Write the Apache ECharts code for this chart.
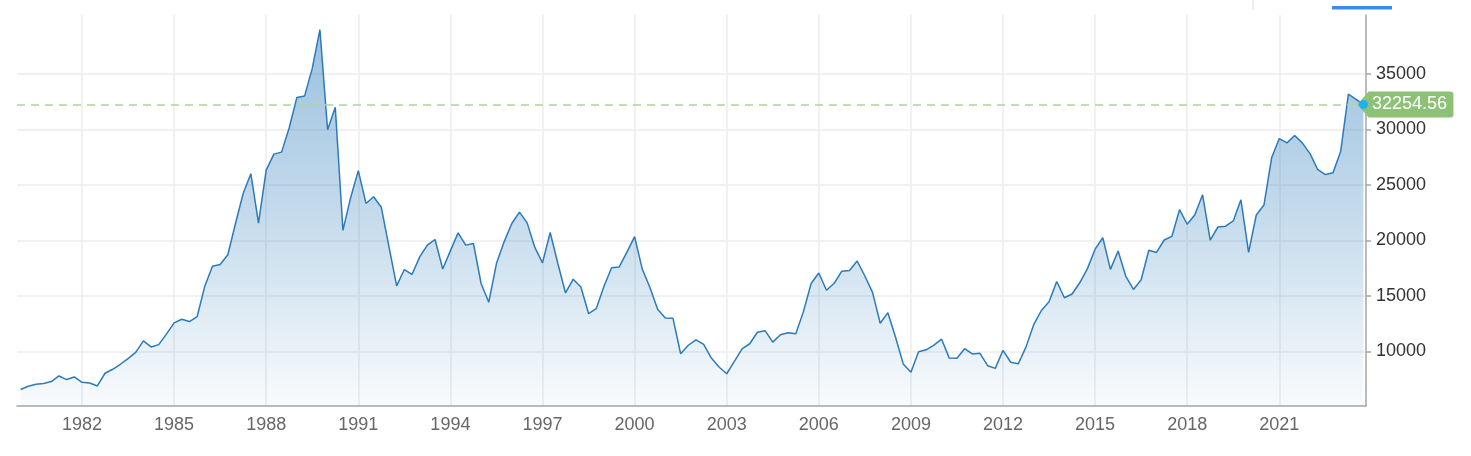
<!DOCTYPE html>
<html>
<head>
<meta charset="utf-8">
<script src="https://cdn.jsdelivr.net/npm/echarts@6/dist/echarts.min.js"></script>
<style>
  html, body { margin: 0; padding: 0; background: #ffffff; }
  #chart { width: 1471px; height: 456px; }
</style>
</head>
<body>
<div id="chart"></div>
<script>
// Quarterly closes (plotted at the start of each quarter), starting 1980 Q1
const startYear = 1980;
const q1980s = [
  6550, 6840, 7020, 7100,
  7265, 7771, 7446, 7682,
  7200, 7140, 6870, 8017,
  8375, 8827, 9340, 9894,
  10930, 10390, 10600, 11543,
  12560, 12890, 12680, 13113,
  15870, 17670, 17820, 18701,
  21520, 24230, 26011, 21564,
  26335, 27780, 27960, 30159,
  32895, 33010, 35510, 39000
];
const q1990s = [
  29980, 32000, 20900, 23849,
  26292, 23330, 23930, 22984,
  19410, 15900, 17370, 16925,
  18510, 19570, 20080, 17417,
  19050, 20680, 19570, 19723,
  16110, 14420, 17910, 19868,
  21520, 22545, 21580, 19361,
  17970, 20710, 17910, 15259,
  16500, 15800, 13400, 13842,
  15837, 17530, 17605, 18934
];
const q2000s = [
  20337, 17411, 15747, 13785,
  12999, 12969, 9774, 10542,
  11024, 10621, 9383, 8579,
  7973, 9083, 10219, 10677,
  11715, 11858, 10824, 11489,
  11668, 11584, 13574, 16111,
  17060, 15505, 16128, 17226,
  17288, 18138, 16786, 15308,
  12525, 13481, 11259, 8860,
  8109, 9958, 10133, 10546
];
const q2010s = [
  11090, 9383, 9369, 10229,
  9755, 9816, 8700, 8455,
  10084, 9007, 8870, 10395,
  12398, 13677, 14455, 16291,
  14828, 15162, 16174, 17451,
  19207, 20236, 17388, 19034,
  16759, 15576, 16450, 19114,
  18909, 20033, 20356, 22765,
  21454, 22305, 24120, 20015,
  21206, 21276, 21756, 23657
];
const q2020s = [
  18917, 22288, 23185, 27444,
  29179, 28792, 29453, 28792,
  27821, 26393, 25937, 26095,
  28041, 33189
];
// Latest value
const lastDate = 2023.74;
const lastValue = 32254.56;

// Axis ticks
const yearTicks = [1982, 1985, 1988, 1991, 1994, 1997, 2000, 2003, 2006, 2009, 2012, 2015, 2018, 2021];
const valueTicks = [10000, 15000, 20000, 25000, 30000, 35000];
const xMin = 1979.883, xMax = 2023.824;
const yMin = 5063, yMax = 40325;

const allQuarters = [].concat(q1980s, q1990s, q2000s, q2010s, q2020s);
const seriesData = allQuarters.map((v, i) => [startYear + i / 4, v]);
seriesData.push([lastDate, lastValue]);

const fontFamily = '"Liberation Sans", Arial, Helvetica, sans-serif';
const chart = echarts.init(document.getElementById('chart'), null, { renderer: 'canvas' });

const option = {
  animation: false,
  backgroundColor: '#ffffff',
  grid: { left: 17, right: 105, top: 15, bottom: 50, containLabel: false },
  xAxis: {
    type: 'value',
    min: xMin,
    max: xMax,
    axisLine: { show: true, lineStyle: { color: '#a6a6a6', width: 1.5 } },
    axisTick: { show: false, customValues: yearTicks },
    axisLabel: {
      customValues: yearTicks,
      formatter: v => String(Math.round(v)),
      color: '#666666',
      fontSize: 18,
      fontFamily: fontFamily,
      margin: 10
    },
    splitLine: { show: true, lineStyle: { color: '#ececec', width: 1.5 } }
  },
  yAxis: {
    type: 'value',
    position: 'right',
    min: yMin,
    max: yMax,
    axisLine: { show: true, lineStyle: { color: '#a6a6a6', width: 1.5 } },
    axisTick: { show: true, length: 5, customValues: valueTicks, lineStyle: { color: '#a6a6a6', width: 1.5 } },
    axisLabel: {
      customValues: valueTicks,
      formatter: v => String(Math.round(v)),
      color: '#333333',
      fontSize: 18,
      fontFamily: fontFamily,
      margin: 10
    },
    splitLine: { show: true, lineStyle: { color: '#ececec', width: 1.5 } }
  },
  series: [
    {
      type: 'line',
      data: seriesData,
      symbol: 'none',
      z: 2,
      lineStyle: { color: '#2b7bba', width: 1.5 },
      areaStyle: {
        opacity: 1,
        color: new echarts.graphic.LinearGradient(0, 0, 0, 1, [
          { offset: 0, color: 'rgba(43,123,186,0.47)' },
          { offset: 0.5, color: 'rgba(43,123,186,0.27)' },
          { offset: 1, color: 'rgba(43,123,186,0.03)' }
        ])
      },
      markLine: {
        silent: true,
        symbol: 'none',
        label: { show: false },
        lineStyle: { color: '#a9d89c', type: [8, 6], width: 1.5, opacity: 1 },
        data: [{ yAxis: lastValue }]
      }
    },
    {
      type: 'scatter',
      data: [[lastDate, lastValue]],
      z: 5,
      clip: false,
      symbol: 'path://M0,13 L11,0 L92,0 Q95,0 95,3 L95,23 Q95,26 92,26 L11,26 Z',
      symbolSize: [96, 26],
      symbolOffset: [42, 0],
      itemStyle: { color: '#8cc176', opacity: 1 },
      label: {
        show: true,
        position: 'inside',
        offset: [4, 0],
        formatter: p => p.value[1].toFixed(2),
        color: '#ffffff',
        fontSize: 18,
        fontFamily: fontFamily
      },
      silent: true
    },
    {
      type: 'scatter',
      data: [[lastDate, lastValue]],
      z: 6,
      clip: false,
      symbol: 'circle',
      symbolSize: 9,
      itemStyle: { color: '#19b2f5', opacity: 1 },
      silent: true
    }
  ],
  graphic: [
    { type: 'rect', shape: { x: 1252.5, y: 0, width: 1, height: 10 }, style: { fill: '#dddddd' } },
    { type: 'rect', shape: { x: 1332, y: 6, width: 60, height: 3.5 }, style: { fill: '#3b8af0' } }
  ]
};

chart.setOption(option);
</script>
</body>
</html>
